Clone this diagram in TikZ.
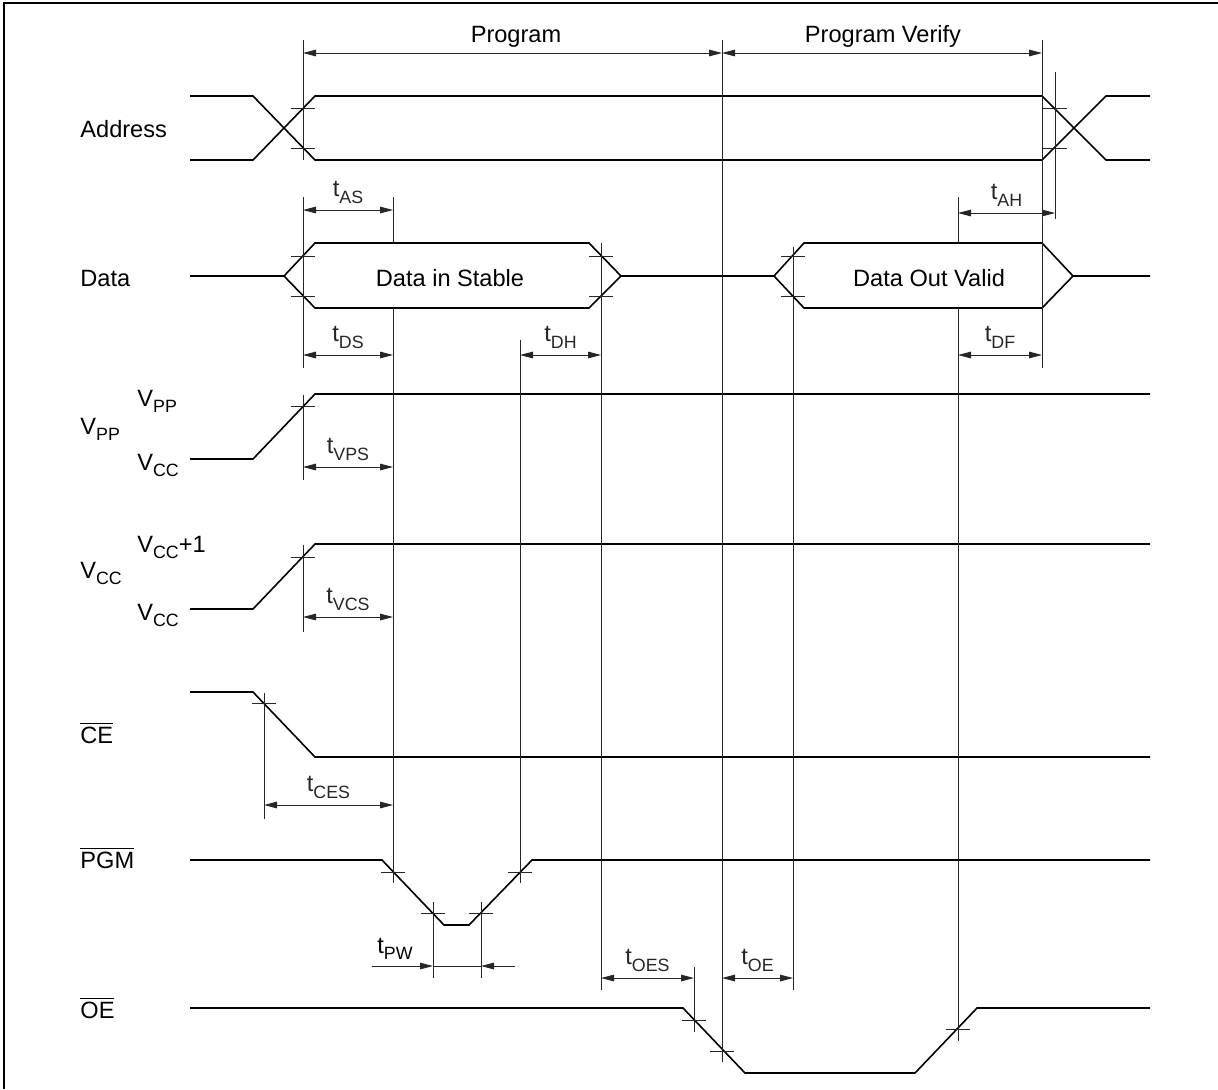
\documentclass[tikz,border=0pt]{standalone}
\usepackage{fontspec}
\setmainfont{Liberation Sans}
\usetikzlibrary{arrows.meta}
\newcommand{\tsub}[1]{\raisebox{-0.28em}{\fontsize{8.9}{9}\selectfont #1}}
\newcommand{\ovl}[1]{$\overline{\mbox{#1}}$}
\tikzset{
  % signal waveforms
  sig/.style={line width=0.8pt, line join=miter},
  % thin reference lines
  refline/.style={line width=0.45pt, black!85},
  % tick marks on edges
  tickmark/.style={line width=0.45pt, black!85},
  % timing arrows
  dim/.style={line width=0.45pt, black!85,
    {Triangle[length=6.5pt,width=3.3pt]}-{Triangle[length=6.5pt,width=3.3pt]}},
  onearr/.style={line width=0.45pt, black!85, -{Triangle[length=6.5pt,width=3.3pt]}},
  % labels
  rowlab/.style={anchor=base west, inner sep=0pt},
  midlab/.style={anchor=base, inner sep=0pt},
  tlab/.style={above=3pt, inner sep=0pt},
  every node/.append style={font=\fontsize{11.8}{14}\selectfont},
}

\begin{document}
\begin{tikzpicture}[x=0.5pt, y=-0.5pt]
  \useasboundingbox (0,0) rectangle (1218,1089);

  % Frame
  \draw[sig] (4,1089) -- (4,3) -- (1218,3);

  % Phase arrows
  \draw[dim] (303,53) -- (722,53);
  \draw[dim] (722,53) -- (1042,53);
  \node[midlab] (prog) at (516,42) {Program};
  \node[midlab] (verify) at (883,42) {Program Verify};

  % Address
  \draw[sig] (190,96) -- (253,96) -- (315,160) -- (1042,160) -- (1106,96) -- (1150,96);
  \draw[sig] (190,160) -- (253,160) -- (315,96) -- (1042,96) -- (1106,160) -- (1150,160);

  % Data
  \draw[sig] (190,276) -- (284,276) -- (315,243) -- (589,243) -- (621,276) -- (774,276)
    -- (804,243) -- (1042,243) -- (1073,276) -- (1150,276);
  \draw[sig] (284,276) -- (315,308) -- (589,308) -- (621,276);
  \draw[sig] (774,276) -- (804,308) -- (1042,308) -- (1073,276);
  \node[midlab] (din) at (450,286) {Data in Stable};
  \node[midlab] (dout) at (929,286) {Data Out Valid};

  % Supplies
  \draw[sig] (190,459) -- (253,459) -- (315,394) -- (1150,394);
  \draw[sig] (190,609) -- (253,609) -- (315,544) -- (1150,544);

  % Control strobes
  \draw[sig] (190,692) -- (253,692) -- (315,757) -- (1150,757);
  \draw[sig] (190,860) -- (382,860) -- (444,925) -- (469,925) -- (532,860) -- (1150,860);
  \draw[sig] (190,1008) -- (683,1008) -- (745,1073) -- (915,1073) -- (977,1008) -- (1150,1008);

  % Reference lines (broken where they meet the data boxes)
  \foreach \x/\a/\b in {303/40/160, 303/197/368, 303/395/480, 303/545/632,
      722/40/1062, 1042/40/368, 1055/72/219, 958/197/243, 958/308/1041,
      393/197/243, 393/308/883, 520/340/883, 601/243/990, 793/247/990,
      264/693/819, 433/902/978, 481/902/978, 694/967/1032} {
    \draw[refline] (\x,\a) -- (\x,\b);
  }

  % Tick marks
  \foreach \x/\y in {303/108, 303/148, 1055/108, 1055/148, 303/256, 303/296,
      601/256, 601/296, 793/256, 793/296, 303/406, 303/557, 264/703,
      393/872, 520/872, 433/913, 481/913, 694/1020, 722/1051, 958/1029} {
    \draw[tickmark] (\x-12,\y) -- (\x+12,\y);
  }

  % Timing parameters
  \foreach \a/\b/\y/\s in {303/393/210/AS, 958/1055/213/AH, 303/393/355/DS,
      520/601/355/DH, 958/1042/355/DF, 303/393/467/VPS, 303/393/617/VCS,
      264/393/805/CES, 601/694/978/OES, 722/793/978/OE} {
    \draw[dim] (\a,\y) -- node[tlab] {t\tsub{\s}} (\b,\y);
  }
  \draw[onearr] (372,966) -- (433,966);
  \draw[onearr] (515,966) -- (481,966);
  \draw[refline] (433,966) -- (481,966);
  \node[tlab] (tpw) at (395,966) {t\tsub{PW}};

  % Row labels
  \node[rowlab] (addr) at (80,137) {Address};
  \node[rowlab] (data) at (80,286) {Data};
  \node[rowlab] (vpp) at (80,434) {V\tsub{PP}};
  \node[rowlab] (vpphi) at (137,406) {V\tsub{PP}};
  \node[rowlab] (vpplo) at (137,470) {V\tsub{CC}};
  \node[rowlab] (vcc) at (80,578) {V\tsub{CC}};
  \node[rowlab] (vcchi) at (137,552) {V\tsub{CC}+1};
  \node[rowlab] (vcclo) at (137,620) {V\tsub{CC}};
  \node[rowlab] (ce) at (80,743) {\ovl{CE}};
  \node[rowlab] (pgm) at (80,868) {\ovl{PGM}};
  \node[rowlab] (oe) at (80,1018) {\ovl{OE}};
\end{tikzpicture}
\end{document}
